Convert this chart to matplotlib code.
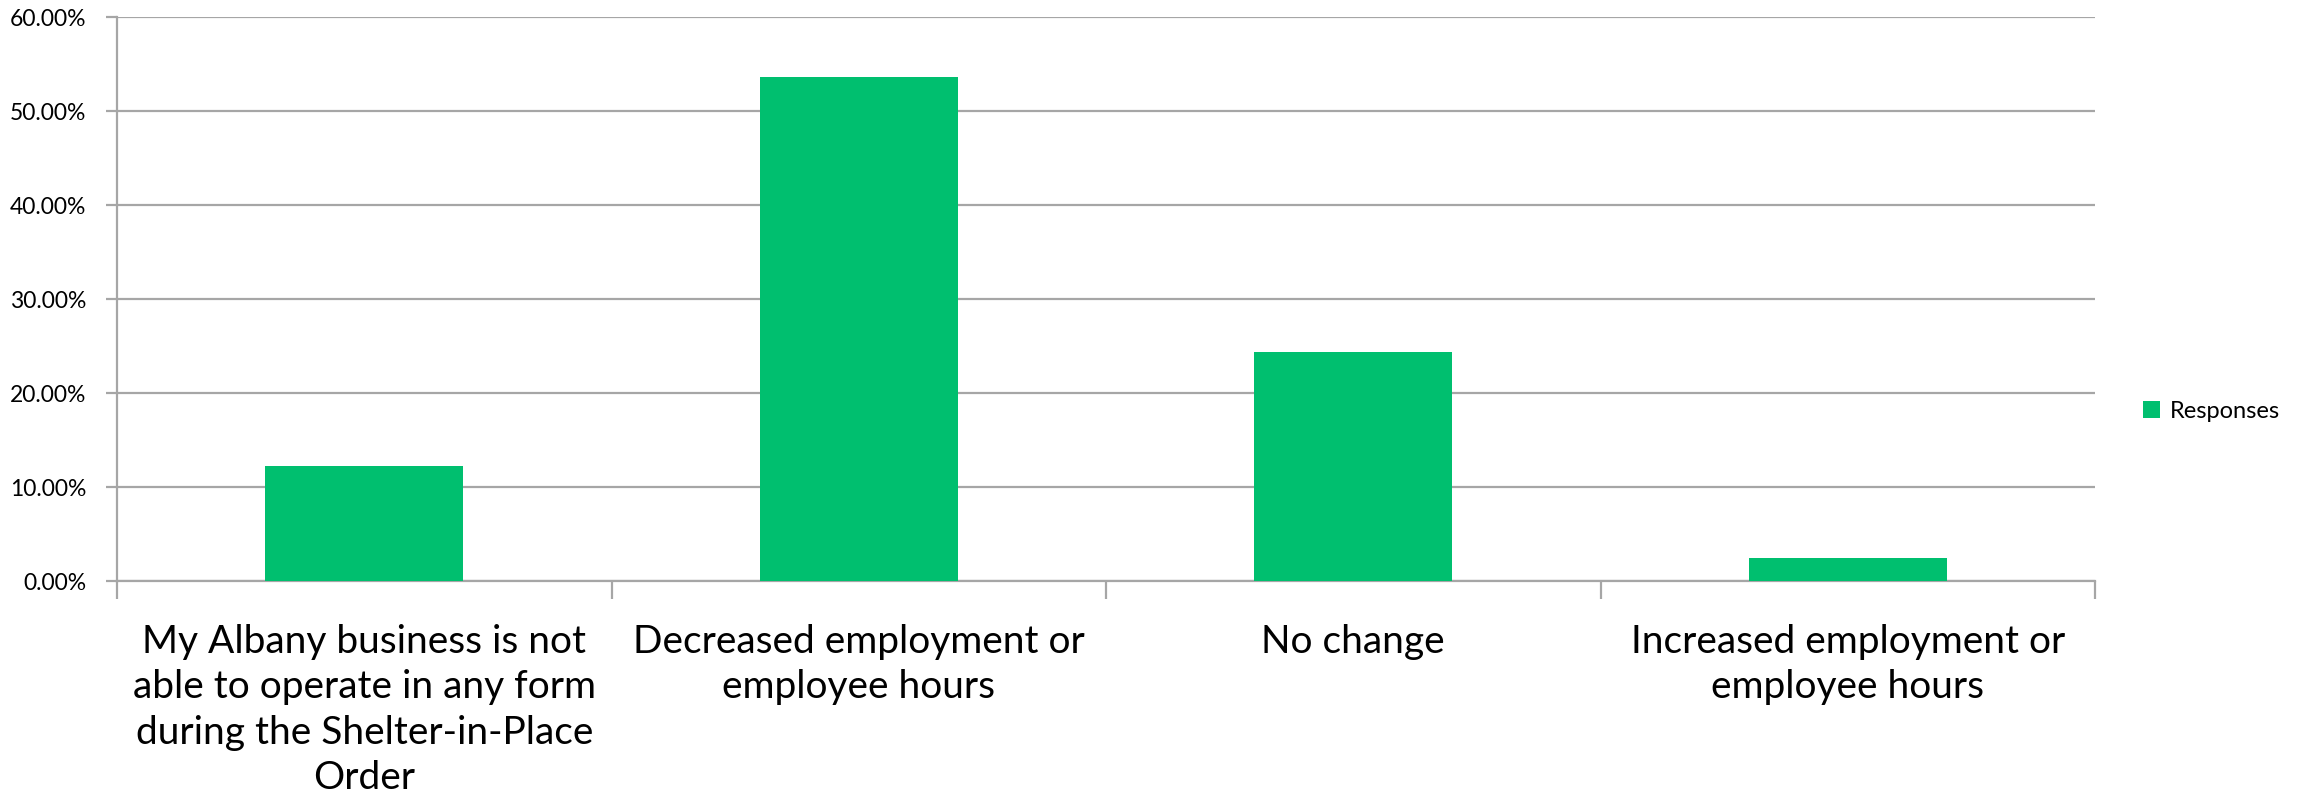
import matplotlib
matplotlib.use("Agg")
import matplotlib.pyplot as plt
from matplotlib.ticker import FuncFormatter, MultipleLocator
from matplotlib.patches import Patch

categories = [
    "My Albany business is not\nable to operate in any form\nduring the Shelter-in-Place\nOrder",
    "Decreased employment or\nemployee hours",
    "No change",
    "Increased employment or\nemployee hours",
]
responses = [12.20, 53.66, 24.39, 2.44]
series_name = "Responses"

BAR_COLOR = "#00BF6F"
GRID_COLOR = "#A6A6A6"
FONT = ["Lato", "DejaVu Sans"]

plt.rcParams["font.family"] = FONT

fig = plt.figure(figsize=(23, 8.12), dpi=100)
ax = fig.add_axes([117 / 2300, (812 - 582) / 812, (2095 - 117) / 2300, (582 - 18) / 812])

x = list(range(len(categories)))
ax.bar(x, responses, width=0.4, color=BAR_COLOR, zorder=3)

ax.set_xlim(-0.5, len(categories) - 0.5)
ax.set_ylim(0, 60)
ax.yaxis.set_major_locator(MultipleLocator(10))
ax.yaxis.set_major_formatter(FuncFormatter(lambda v, p: f"{v:.2f}%"))
ax.grid(axis="y", color=GRID_COLOR, linewidth=1.6, zorder=0)

for s in ["top", "right"]:
    ax.spines[s].set_visible(False)
for s in ["left", "bottom"]:
    ax.spines[s].set_color(GRID_COLOR)
    ax.spines[s].set_linewidth(1.6)

ax.tick_params(axis="y", length=8, width=1.6, color=GRID_COLOR, labelsize=16.5,
               labelcolor="#000000", pad=14)

# category boundary ticks
ax.set_xticks([i - 0.5 for i in range(len(categories) + 1)])
ax.set_xticklabels([])
ax.tick_params(axis="x", which="major", length=13, width=1.6, color=GRID_COLOR)
ax.set_xticks(x, minor=True)
ax.set_xticklabels(categories, minor=True, fontsize=28, linespacing=1.33)
ax.tick_params(axis="x", which="minor", length=0, pad=30, labelcolor="#000000")

handle = Patch(facecolor=BAR_COLOR, edgecolor="none", label=series_name)
fig.legend(handles=[handle], loc="center left", bbox_to_anchor=(2134 / 2300, (812 - 412) / 812),
           frameon=False, fontsize=17, handlelength=0.7, handleheight=0.7,
           handletextpad=0.4, borderaxespad=0)

fig.savefig("out.png", dpi=100, facecolor="white")
